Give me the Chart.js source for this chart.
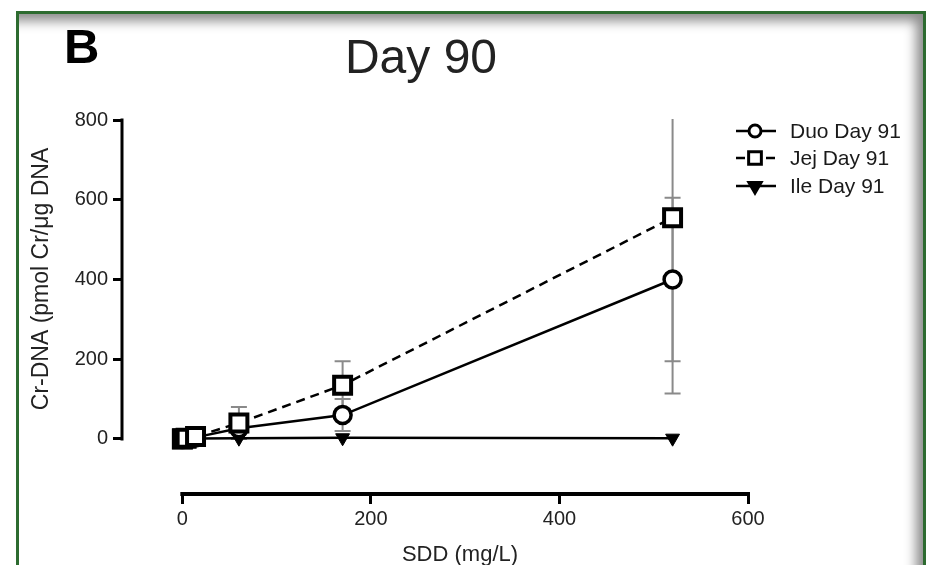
<!DOCTYPE html>
<html>
<head>
<meta charset="utf-8">
<script src="https://cdn.jsdelivr.net/npm/chart.js@4"></script>
<style>
  html, body { margin: 0; padding: 0; background: #fff; }
  body { width: 929px; height: 565px; position: relative; overflow: hidden; }
  #frame {
    position: absolute; left: 16px; top: 11px; width: 904px; height: 600px;
    border: 3px solid #2d6b30;
    box-shadow: inset -12px 12px 12px -5px rgba(0, 0, 0, 0.45);
  }
  #chart { position: absolute; left: 0; top: 0; }
</style>
</head>
<body>
<div id="frame"></div>
<canvas id="chart" width="929" height="565"></canvas>
<script>
// SDD dose groups (mg/L)
const doses = [0, 0.3, 4, 14, 60, 170, 520];

// Cr-DNA, pmol Cr / ug DNA
const duoValues = [0, 0.5, 1.5, 4, 27, 60, 400];
const duoErrors = [0, 0, 0, 0, 0, 40, 205];
const jejValues = [0, 0.5, 2, 6, 40, 135, 555];
const jejErrors = [0, 0, 0, 0, 40, 60, 441];
const ileValues = [0, 0.2, 0.5, 1, 2, 3, 2];

const xTicks = [0, 200, 400, 600];
const yTicks = [0, 200, 400, 600, 800];
const seriesNames = ["Duo Day 91", "Jej Day 91", "Ile Day 91"];

const FONT = "'Liberation Sans', Arial, sans-serif";

function toPoints(values) {
  return doses.map((d, i) => ({ x: d, y: values[i] }));
}

// gray error bars, drawn behind the markers
const errorBars = {
  id: "errorBars",
  beforeDatasetsDraw(chart) {
    const ctx = chart.ctx;
    const area = chart.chartArea;
    const x = chart.scales.x;
    const y = chart.scales.y;
    ctx.save();
    ctx.beginPath();
    ctx.rect(area.left, area.top - 1, area.right - area.left, area.bottom - area.top);
    ctx.clip();
    ctx.strokeStyle = "#8a8a8a";
    ctx.lineWidth = 2;
    chart.data.datasets.forEach((ds) => {
      if (!ds.errors) return;
      ds.data.forEach((p, i) => {
        const e = ds.errors[i];
        if (!e) return;
        const px = x.getPixelForValue(p.x);
        const top = y.getPixelForValue(p.y + e);
        const bot = y.getPixelForValue(p.y - e);
        ctx.beginPath();
        ctx.moveTo(px, top);
        ctx.lineTo(px, bot);
        ctx.moveTo(px - 8, top);
        ctx.lineTo(px + 8, top);
        ctx.moveTo(px - 8, bot);
        ctx.lineTo(px + 8, bot);
        ctx.stroke();
      });
    });
    ctx.restore();
  },
};

// Prism style axes: lines only over the tick range
const axisLines = {
  id: "axisLines",
  beforeDatasetsDraw(chart) {
    const ctx = chart.ctx;
    const area = chart.chartArea;
    const x = chart.scales.x;
    const y = chart.scales.y;
    ctx.save();
    ctx.strokeStyle = "#000";
    ctx.lineCap = "square";
    ctx.lineWidth = 3;
    ctx.beginPath();
    ctx.moveTo(area.left, y.getPixelForValue(yTicks[yTicks.length - 1]));
    ctx.lineTo(area.left, y.getPixelForValue(yTicks[0]));
    ctx.stroke();
    ctx.lineWidth = 4;
    ctx.beginPath();
    ctx.moveTo(x.getPixelForValue(xTicks[0]), area.bottom);
    ctx.lineTo(x.getPixelForValue(xTicks[xTicks.length - 1]), area.bottom);
    ctx.stroke();
    ctx.restore();
  },
};

// titles and legend
const labels = {
  id: "labels",
  afterDraw(chart) {
    const ctx = chart.ctx;
    ctx.save();
    ctx.fillStyle = "#000";
    ctx.textBaseline = "alphabetic";
    ctx.font = "bold 49px " + FONT;
    ctx.textAlign = "left";
    ctx.fillText("B", 64, 63);

    ctx.fillStyle = "#222";
    ctx.font = "48px " + FONT;
    ctx.textAlign = "center";
    ctx.fillText("Day 90", 421, 73);

    ctx.font = "22px " + FONT;
    ctx.textBaseline = "middle";
    ctx.fillText("SDD (mg/L)", 460, 555);

    ctx.save();
    ctx.translate(42, 279);
    ctx.rotate(-Math.PI / 2);
    ctx.font = "23px " + FONT;
    ctx.fillText("Cr-DNA (pmol Cr/\u03bcg DNA", 0, 0);
    ctx.restore();

    // legend
    const rows = [131, 158, 186];
    chart.data.datasets.forEach((ds, i) => {
      const yy = rows[i];
      ctx.save();
      ctx.strokeStyle = "#000";
      ctx.lineWidth = 2.5;
      ctx.setLineDash(ds.borderDash || []);
      ctx.beginPath();
      ctx.moveTo(736, yy);
      ctx.lineTo(776, yy);
      ctx.stroke();
      ctx.setLineDash([]);
      ctx.fillStyle = ds.pointBackgroundColor;
      ctx.lineWidth = 3;
      Chart.helpers.drawPoint(ctx, {
        pointStyle: ds.pointStyle,
        rotation: ds.pointRotation || 0,
        radius: ds.legendRadius,
        borderWidth: 3,
      }, 755, yy);
      ctx.restore();
      ctx.fillStyle = "#1a1a1a";
      ctx.font = "21px " + FONT;
      ctx.textAlign = "left";
      ctx.fillText(seriesNames[i], 790, yy + 1);
    });
    ctx.restore();
  },
};

new Chart(document.getElementById("chart"), {
  type: "line",
  data: {
    datasets: [
      {
        label: seriesNames[0],
        data: toPoints(duoValues),
        errors: duoErrors,
        borderColor: "#000",
        borderWidth: 2.5,
        pointStyle: "circle",
        pointRadius: 8.5,
        legendRadius: 6,
        pointBorderWidth: 3.5,
        pointBorderColor: "#000",
        pointBackgroundColor: "#fff",
        order: 1,
      },
      {
        label: seriesNames[1],
        data: toPoints(jejValues),
        errors: jejErrors,
        borderColor: "#000",
        borderWidth: 2.5,
        borderDash: [9, 6],
        pointStyle: "rect",
        pointRadius: 12,
        legendRadius: 9,
        pointBorderWidth: 4,
        pointBorderColor: "#000",
        pointBackgroundColor: "#fff",
        order: 0,
      },
      {
        label: seriesNames[2],
        data: toPoints(ileValues),
        borderColor: "#000",
        borderWidth: 2.5,
        pointStyle: "triangle",
        pointRotation: 180,
        pointRadius: 8,
        legendRadius: 7,
        pointBorderWidth: 1,
        pointBorderColor: "#000",
        pointBackgroundColor: "#000",
        order: 2,
      },
    ],
  },
  options: {
    responsive: false,
    animation: false,
    layout: { padding: { left: 0, right: 181, top: 120, bottom: 0 } },
    plugins: {
      legend: { display: false },
      tooltip: { enabled: false },
    },
    scales: {
      x: {
        type: "linear",
        min: -64,
        max: 600,
        afterBuildTicks: (s) => { s.ticks = xTicks.map((v) => ({ value: v })); },
        afterFit: (s) => { s.height = 71; },
        border: { display: false },
        grid: { drawOnChartArea: false, drawTicks: true, tickLength: 10, tickWidth: 3, tickColor: "#000" },
        ticks: { color: "#222", padding: 3, font: { family: FONT, size: 20 } },
      },
      y: {
        type: "linear",
        min: -138,
        max: 800,
        afterBuildTicks: (s) => { s.ticks = yTicks.map((v) => ({ value: v })); },
        afterFit: (s) => { s.width = 122; },
        border: { display: false },
        grid: { drawOnChartArea: false, drawTicks: true, tickLength: 9, tickWidth: 3, tickColor: "#000" },
        ticks: { color: "#222", padding: 5, font: { family: FONT, size: 20 } },
      },
    },
  },
  plugins: [axisLines, errorBars, labels],
});
</script>
</body>
</html>
